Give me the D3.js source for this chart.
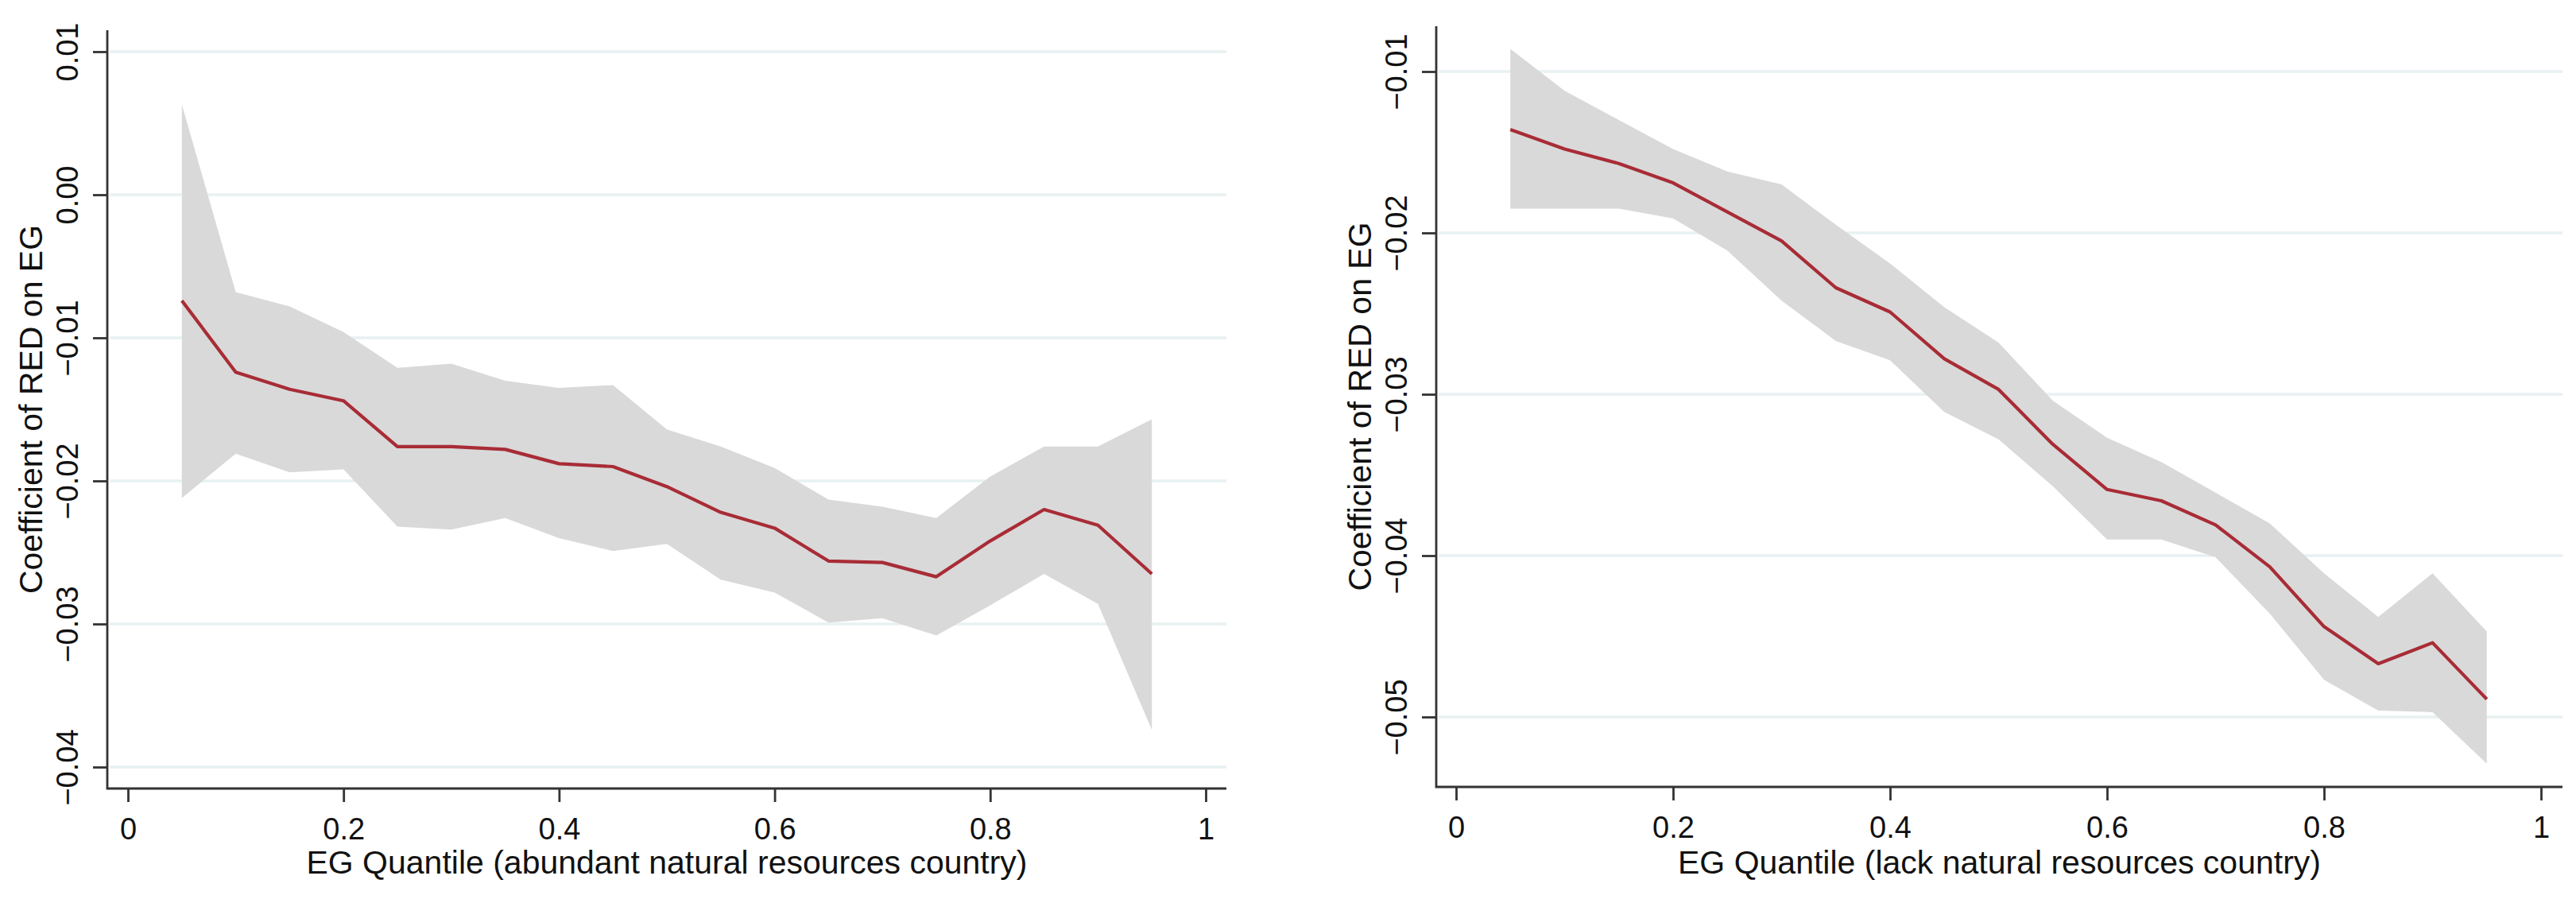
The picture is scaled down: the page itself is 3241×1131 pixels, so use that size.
<!DOCTYPE html>
<html>
<head>
<meta charset="utf-8">
<script src="https://cdn.jsdelivr.net/npm/d3@7"></script>
<style>
  body { margin: 0; background: #fff; }
  svg { display: block; font-family: "Liberation Sans", Arial, sans-serif; }
</style>
</head>
<body>
<svg id="chart" width="3241" height="1131"></svg>
<script>
// quantiles on the x axis
const quantiles = [0.05, 0.10, 0.15, 0.20, 0.25, 0.30, 0.35, 0.40, 0.45, 0.50,
                   0.55, 0.60, 0.65, 0.70, 0.75, 0.80, 0.85, 0.90, 0.95]

// abundant natural resources country
const abundantCoef  = [-0.0074, -0.0124, -0.0136, -0.0144, -0.0176, -0.0176, -0.0178, -0.0188, -0.0190, -0.0204,
                       -0.0222, -0.0233, -0.0256, -0.0257, -0.0267, -0.0242, -0.0220, -0.0231, -0.0265]
const abundantUpper = [0.0063, -0.0068, -0.0078, -0.0096, -0.0121, -0.0118, -0.0130, -0.0135, -0.0133, -0.0164,
                       -0.0176, -0.0191, -0.0213, -0.0218, -0.0226, -0.0197, -0.0176, -0.0176, -0.0157]
const abundantLower = [-0.0212, -0.0181, -0.0194, -0.0192, -0.0232, -0.0234, -0.0226, -0.0240, -0.0249, -0.0244,
                       -0.0269, -0.0278, -0.0299, -0.0296, -0.0308, -0.0287, -0.0265, -0.0286, -0.0374]

// lack natural resources country
const lackCoef  = [-0.0136, -0.0148, -0.0157, -0.0169, -0.0187, -0.0205, -0.0234, -0.0249, -0.0278, -0.0297,
                   -0.0331, -0.0359, -0.0366, -0.0381, -0.0407, -0.0444, -0.0467, -0.0454, -0.0489]
const lackUpper = [-0.0086, -0.0112, -0.0130, -0.0148, -0.0162, -0.0170, -0.0195, -0.0219, -0.0246, -0.0268,
                   -0.0304, -0.0327, -0.0342, -0.0361, -0.0380, -0.0411, -0.0438, -0.0411, -0.0447]
const lackLower = [-0.0185, -0.0185, -0.0185, -0.0191, -0.0211, -0.0242, -0.0267, -0.0279, -0.0311, -0.0328,
                   -0.0357, -0.0390, -0.0390, -0.0401, -0.0436, -0.0477, -0.0496, -0.0497, -0.0529]

// tick labels
const xTicks = [0, 0.2, 0.4, 0.6, 0.8, 1]
const abundantYTicks = [0.01, 0.00, -0.01, -0.02, -0.03, -0.04]
const lackYTicks = [-0.01, -0.02, -0.03, -0.04, -0.05]

const yTitle = 'Coefficient of RED on EG'

const svg = d3.select('#chart')

/**
 * Dessine un panneau : bande de confiance, ligne, axes et grille
 */
function drawPanel (p) {
  const x = d3.scaleLinear().domain([0, 1]).range(p.xRange)
  const y = d3.scaleLinear().domain(p.yDomain).range(p.yRange)
  const g = svg.append('g')

  // grille horizontale
  g.selectAll('.grid')
    .data(p.yTicks)
    .join('line')
    .attr('x1', p.frame.left + 3).attr('x2', p.frame.right)
    .attr('y1', d => y(d)).attr('y2', d => y(d))
    .attr('stroke', '#e8f1f2').attr('stroke-width', 3.5)

  const rows = quantiles.map((q, i) => ({ q: q, c: p.coef[i], lo: p.lower[i], hi: p.upper[i] }))

  // intervalle de confiance
  g.append('path')
    .datum(rows)
    .attr('fill', '#d9d9d9')
    .attr('d', d3.area().x(d => x(d.q)).y0(d => y(d.lo)).y1(d => y(d.hi)))

  // coefficient
  g.append('path')
    .datum(rows)
    .attr('fill', 'none')
    .attr('stroke', '#a82c36')
    .attr('stroke-width', 4.2)
    .attr('stroke-linejoin', 'round')
    .attr('d', d3.line().x(d => x(d.q)).y(d => y(d.c)))

  // axe Y
  const yAxis = g.append('g')
    .attr('transform', 'translate(' + p.frame.left + ',0)')
    .call(d3.axisLeft(y).tickValues(p.yTicks).tickFormat(d3.format('.2f')).tickSize(18).tickSizeOuter(0))
  yAxis.select('.domain').remove()
  yAxis.selectAll('.tick line').attr('stroke', '#333').attr('stroke-width', 2.8)
  yAxis.selectAll('.tick text')
    .attr('transform', 'rotate(-90)')
    .attr('x', 0).attr('y', -50).attr('dy', '0.35em')
    .attr('text-anchor', 'middle')
    .attr('fill', '#111')
    .style('font-size', '38px')

  // axe X
  const xAxis = g.append('g')
    .attr('transform', 'translate(0,' + p.frame.bottom + ')')
    .call(d3.axisBottom(x).tickValues(xTicks).tickFormat(d3.format('~g')).tickSize(17).tickSizeOuter(0))
  xAxis.select('.domain').remove()
  xAxis.selectAll('.tick line').attr('stroke', '#333').attr('stroke-width', 2.8)
  xAxis.selectAll('.tick text')
    .attr('y', 0).attr('dy', 64)
    .attr('fill', '#111')
    .style('font-size', '38px')

  // cadre des axes
  g.append('path')
    .attr('d', 'M' + p.frame.left + ',' + p.frame.top + 'V' + p.frame.bottom + 'H' + p.frame.right)
    .attr('fill', 'none').attr('stroke', '#333').attr('stroke-width', 2.8)

  // titres des axes
  g.append('text')
    .text(p.xTitle)
    .attr('x', (p.frame.left + p.frame.right) / 2)
    .attr('y', 1099)
    .attr('text-anchor', 'middle')
    .attr('fill', '#111')
    .style('font-size', '41px')

  const midY = (p.frame.top + p.frame.bottom) / 2
  g.append('text')
    .text(yTitle)
    .attr('transform', 'translate(' + (p.frame.left - 96) + ',' + midY + ') rotate(-90)')
    .attr('dy', '0.35em')
    .attr('text-anchor', 'middle')
    .attr('fill', '#111')
    .style('font-size', '41px')
}

drawPanel({
  coef: abundantCoef, upper: abundantUpper, lower: abundantLower,
  yTicks: abundantYTicks,
  xRange: [161, 1517], yDomain: [0.01, -0.04], yRange: [65, 965],
  frame: { left: 135, right: 1543, top: 38, bottom: 992 },
  xTitle: 'EG Quantile (abundant natural resources country)'
})

drawPanel({
  coef: lackCoef, upper: lackUpper, lower: lackLower,
  yTicks: lackYTicks,
  xRange: [1832, 3197], yDomain: [-0.01, -0.05], yRange: [90, 902],
  frame: { left: 1807, right: 3224, top: 33, bottom: 990 },
  xTitle: 'EG Quantile (lack natural resources country)'
})
</script>
</body>
</html>
